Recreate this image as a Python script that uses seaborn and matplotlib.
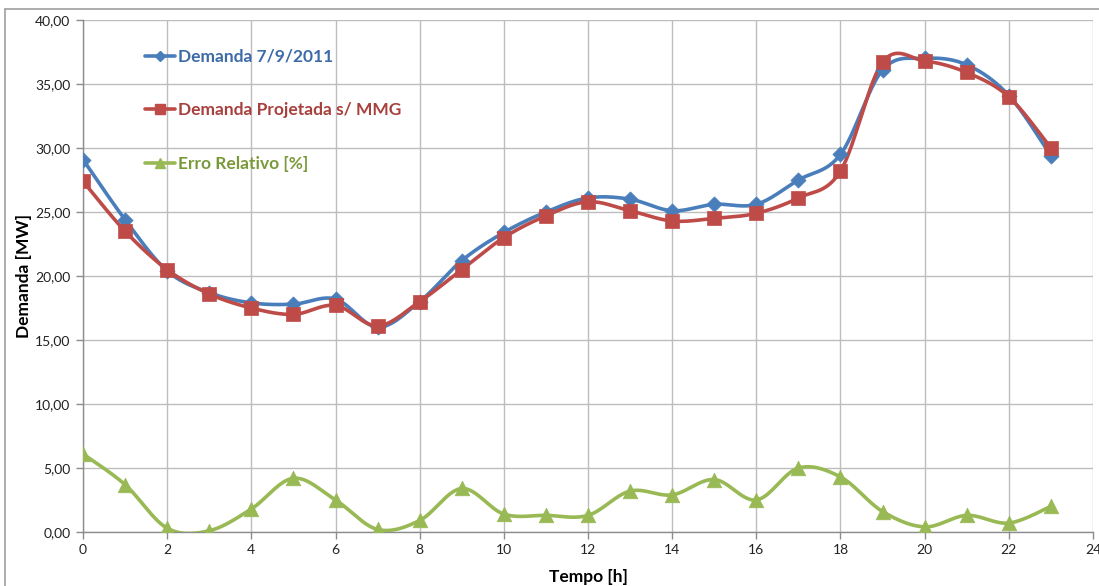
import numpy as np
import pandas as pd
import matplotlib
matplotlib.use("Agg")
import matplotlib.pyplot as plt
import seaborn as sns
from matplotlib.lines import Line2D
from matplotlib.ticker import FuncFormatter, MultipleLocator

# ---- data ----
hours = list(range(24))
demanda = [29.1, 24.4, 20.4, 18.7, 17.9, 17.8, 18.2, 16.0, 18.0, 21.2, 23.4, 25.0,
           26.1, 26.0, 25.1, 25.6, 25.6, 27.5, 29.5, 36.1, 37.0, 36.5, 34.1, 29.4]
projetada = [27.4, 23.5, 20.5, 18.6, 17.5, 17.0, 17.7, 16.1, 18.0, 20.5, 23.0, 24.7,
             25.8, 25.1, 24.3, 24.5, 24.9, 26.1, 28.2, 36.7, 36.8, 35.9, 34.0, 30.0]
erro = [6.1, 3.7, 0.3, 0.1, 1.8, 4.2, 2.5, 0.2, 0.9, 3.4, 1.4, 1.3,
        1.3, 3.2, 2.9, 4.1, 2.5, 5.0, 4.3, 1.6, 0.4, 1.3, 0.7, 2.0]
labels = ["Demanda 7/9/2011", "Demanda Projetada s/ MMG", "Erro Relativo [%]"]
xlabel = "Tempo [h]"
ylabel = "Demanda [MW]"

colors = ["#4A7EBB", "#BE4B48", "#98B954"]
text_colors = ["#3D6BA8", "#A8403D", "#7A9A3A"]
markers = ["D", "s", "^"]
msizes = [60, 95, 110]

sns.set_theme(style="white")
plt.rcParams["font.family"] = ["Lato", "DejaVu Sans"]


def smooth(x, y, n=30):
    """Excel-like smoothed curve (Catmull-Rom Bezier) through the points."""
    P = np.column_stack([x, y]).astype(float)
    out = []
    m = len(P)
    for i in range(m - 1):
        p0 = P[i - 1] if i > 0 else P[i]
        p1 = P[i]
        p2 = P[i + 1]
        p3 = P[i + 2] if i + 2 < m else P[i + 1]
        b1 = p1 + (p2 - p0) / 6.0
        b2 = p2 - (p3 - p1) / 6.0
        t = np.linspace(0, 1, n, endpoint=(i == m - 2))[:, None]
        seg = ((1 - t) ** 3) * p1 + 3 * ((1 - t) ** 2) * t * b1 + 3 * (1 - t) * t ** 2 * b2 + t ** 3 * p2
        out.append(seg)
    out = np.vstack(out)
    return out[:, 0], out[:, 1]


W, H = 1099, 586
fig = plt.figure(figsize=(W / 100, H / 100), dpi=100)
ax = fig.add_axes([83 / W, 1 - 532 / H, (1093 - 83) / W, (532 - 20) / H])

series = [demanda, projetada, erro]
for vals, c, mk, ms in zip(series, colors, markers, msizes):
    sx, sy = smooth(hours, vals)
    ax.plot(sx, sy, color=c, lw=2.6, zorder=3, solid_capstyle="round")
    sns.scatterplot(x=hours, y=vals, marker=mk, s=ms, color=c, edgecolor=c,
                    linewidth=0.5, ax=ax, zorder=4, legend=False)

ax.set_xlim(0, 24)
ax.set_ylim(0, 40)
ax.xaxis.set_major_locator(MultipleLocator(2))
ax.yaxis.set_major_locator(MultipleLocator(5))
ax.yaxis.set_major_formatter(FuncFormatter(lambda v, p: f"{v:.2f}".replace(".", ",")))
ax.grid(True, color="#BDBDBD", lw=1.0)
ax.set_axisbelow(True)
for s in ["top", "right"]:
    ax.spines[s].set_visible(False)
for s in ["left", "bottom"]:
    ax.spines[s].set_color("#8C8C8C")
    ax.spines[s].set_linewidth(1.0)
ax.tick_params(axis="both", which="major", length=5, width=1, color="#8C8C8C",
               direction="out", labelsize=10, labelcolor="#222222", pad=4,
               bottom=True, left=True)
ax.set_xlabel(xlabel, fontsize=12.5, fontweight="bold", color="black", labelpad=9)
ax.set_ylabel(ylabel, fontsize=12.5, fontweight="bold", color="black", labelpad=2)

handles = [Line2D([0], [0], color=c, lw=2.6, marker=mk, markersize=ms ** 0.5 * 0.7,
                  markeredgecolor=c) for c, mk, ms in zip(colors, markers, msizes)]
leg = ax.legend(handles, labels, loc="upper left",
                bbox_to_anchor=(145 / W, 1 - 49 / H), bbox_transform=fig.transFigure,
                frameon=False, fontsize=12.5, handlelength=1.75, handletextpad=0.15,
                labelspacing=2.15, borderpad=0, borderaxespad=0)
for t, tc in zip(leg.get_texts(), text_colors):
    t.set_color(tc)
    t.set_fontweight("bold")

# outer chart frame (cropped)
fig.add_artist(Line2D([5 / W, 1.0], [1 - 9 / H, 1 - 9 / H], transform=fig.transFigure,
                      color="#A0A0A0", lw=1.2))
fig.add_artist(Line2D([5 / W, 5 / W], [0.0, 1 - 9 / H], transform=fig.transFigure,
                      color="#A0A0A0", lw=1.2))

fig.savefig("out.png", dpi=100, facecolor="white")
